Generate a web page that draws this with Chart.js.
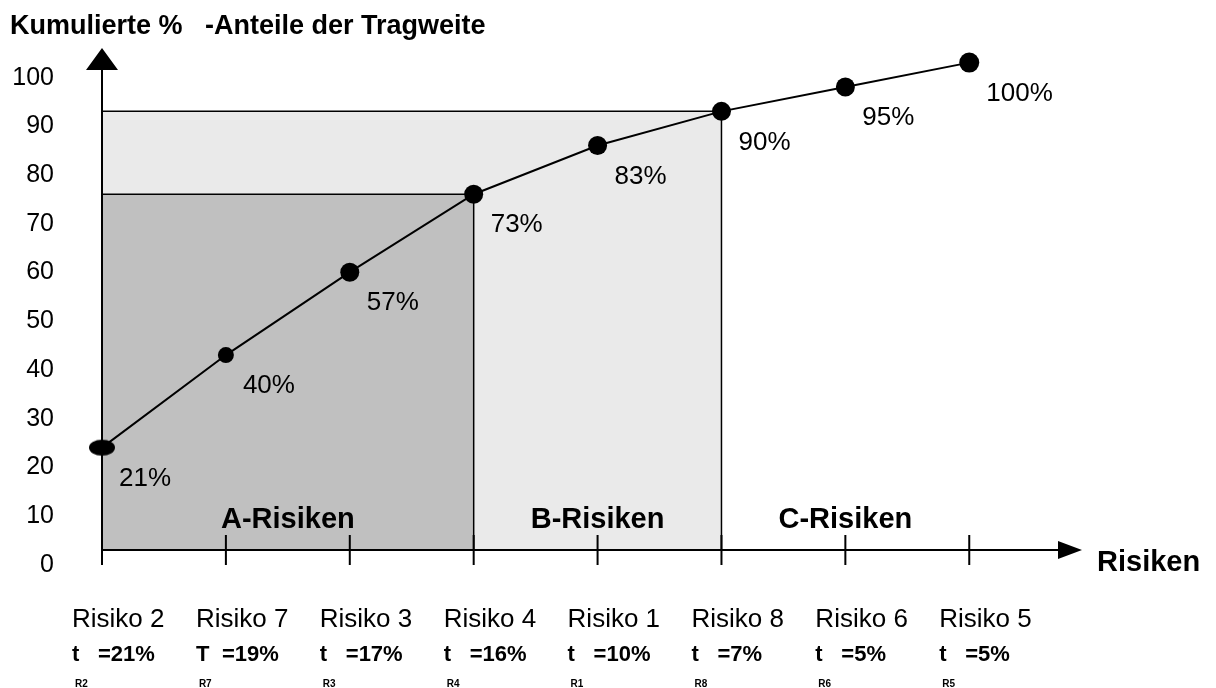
<!DOCTYPE html>
<html lang="de">
<head>
<meta charset="UTF-8">
<title>Kumulierte Tragweite der Risiken</title>
<script src="https://cdn.jsdelivr.net/npm/chart.js@4/dist/chart.umd.min.js"></script>
<style>
  html, body { margin:0; padding:0; background:#fff; }
  #wrap { width:1216px; height:688px; }
</style>
</head>
<body>
<div id="wrap"><canvas id="chart" width="1216" height="688"></canvas></div>

<script>
// ── Daten ────────────────────────────────────────────────────────────
const risks      = ['Risiko 2','Risiko 7','Risiko 3','Risiko 4','Risiko 1','Risiko 8','Risiko 6','Risiko 5'];
const riskIds    = ['R2','R7','R3','R4','R1','R8','R6','R5'];
const shareSyms  = ['t','T','t','t','t','t','t','t'];
const shares     = [21,19,17,16,10,7,5,5];
const cumulative = [21,40,57,73,83,90,95,100];
const yTicks     = [0,10,20,30,40,50,60,70,80,90,100];
const classNames = ['A-Risiken','B-Risiken','C-Risiken'];
const classEdges = [0,3,5,7];   // Index-Grenzen der Klassen A / B / C

const FONT = '"Liberation Sans", Arial, Helvetica, sans-serif';
const xMax = 7.91;               // etwas Platz rechts für den Achsenpfeil

// Erster Punkt ist als Ellipse gezeichnet
function ellipseMarker(rx, ry) {
  const c = document.createElement('canvas');
  c.width = rx * 2 + 2;
  c.height = ry * 2 + 2;
  const g = c.getContext('2d');
  g.fillStyle = '#000';
  g.beginPath();
  g.ellipse(rx + 1, ry + 1, rx, ry, 0, 0, Math.PI * 2);
  g.fill();
  return c;
}

// Flächen, Achsen, Pfeile und Beschriftungen
const paretoDecor = {
  id: 'paretoDecor',
  beforeDatasetsDraw(chart) {
    const { ctx, chartArea, scales: { x, y } } = chart;
    const x0 = x.getPixelForValue(0);
    const y0 = y.getPixelForValue(0);
    ctx.save();

    // B-Fläche (hell) zuerst, A-Fläche (dunkel) darüber
    const fills = ['#c0c0c0', '#eaeaea'];
    for (let k = 1; k >= 0; k--) {
      const edge  = classEdges[k + 1];
      const right = x.getPixelForValue(edge);
      const top   = y.getPixelForValue(cumulative[edge]);
      ctx.fillStyle = fills[k];
      ctx.fillRect(x0, top, right - x0, y0 - top);
      ctx.strokeStyle = '#000';
      ctx.lineWidth = 1.5;
      ctx.beginPath();
      ctx.moveTo(x0, top);
      ctx.lineTo(right, top);
      ctx.lineTo(right, y0);
      ctx.stroke();
    }

    ctx.fillStyle = '#000';
    ctx.font = 'bold 29px ' + FONT;
    ctx.textAlign = 'center';
    ctx.textBaseline = 'middle';
    classNames.forEach((name, k) => {
      const cx = x.getPixelForValue((classEdges[k] + classEdges[k + 1]) / 2);
      ctx.fillText(name, cx, y0 - 30);
    });

    // Achsen
    ctx.strokeStyle = '#000';
    ctx.lineWidth = 2;
    ctx.beginPath();
    ctx.moveTo(x0, y0 + 15);
    ctx.lineTo(x0, chartArea.top + 20);
    ctx.moveTo(x0, y0);
    ctx.lineTo(chartArea.right - 22, y0);
    for (let i = 1; i < risks.length; i++) {
      const px = x.getPixelForValue(i);
      ctx.moveTo(px, y0 - 15);
      ctx.lineTo(px, y0 + 15);
    }
    ctx.stroke();

    ctx.beginPath();
    ctx.moveTo(x0, chartArea.top);
    ctx.lineTo(x0 + 16, chartArea.top + 22);
    ctx.lineTo(x0 - 16, chartArea.top + 22);
    ctx.closePath();
    ctx.moveTo(chartArea.right, y0);
    ctx.lineTo(chartArea.right - 24, y0 - 9);
    ctx.lineTo(chartArea.right - 24, y0 + 9);
    ctx.closePath();
    ctx.fill();
    ctx.restore();
  },
  afterDatasetsDraw(chart) {
    const { ctx, chartArea, scales: { x, y } } = chart;
    const y0 = y.getPixelForValue(0);
    const meta = chart.getDatasetMeta(0);
    ctx.save();
    ctx.fillStyle = '#000';
    ctx.textBaseline = 'middle';
    ctx.textAlign = 'left';

    // kumulierte Werte neben den Punkten
    ctx.font = '26px ' + FONT;
    meta.data.forEach((pt, i) => {
      ctx.fillText(cumulative[i] + '%', pt.x + 17, pt.y + 31);
    });

    // Risiken und Einzelanteile unter der x-Achse
    risks.forEach((name, i) => {
      const left = x.getPixelForValue(i) - 30;
      ctx.font = '26px ' + FONT;
      ctx.textBaseline = 'alphabetic';
      ctx.fillText(name, left, y0 + 77);
      ctx.font = 'bold 22px ' + FONT;
      ctx.fillText(shareSyms[i], left, y0 + 111);
      ctx.fillText('=' + shares[i] + '%', left + 26, y0 + 111);
      ctx.font = 'bold 10px ' + FONT;
      ctx.fillText(riskIds[i], left + 3, y0 + 137);
    });

    // Titel und Achsenbezeichnung
    ctx.textBaseline = 'middle';
    ctx.font = 'bold 27px ' + FONT;
    ctx.fillText('Kumulierte %   -Anteile der Tragweite', 10, 27);
    ctx.font = 'bold 29px ' + FONT;
    ctx.fillText('Risiken', chartArea.right + 15, y0 + 13);
    ctx.restore();
  }
};

new Chart(document.getElementById('chart'), {
  type: 'line',
  data: {
    datasets: [{
      data: cumulative.map((v, i) => ({ x: i, y: v })),
      borderColor: '#000',
      borderWidth: 2,
      tension: 0,
      clip: false,
      pointBackgroundColor: '#000',
      pointBorderWidth: 0,
      pointRadius: [13, 8, 9.5, 9.5, 9.5, 9.5, 9.5, 10],
      pointStyle: [ellipseMarker(13, 8), 'circle', 'circle', 'circle', 'circle', 'circle', 'circle', 'circle']
    }]
  },
  options: {
    responsive: false,
    animation: false,
    layout: { padding: { left: 0, top: 48, right: 134, bottom: 138 }, autoPadding: false },
    plugins: { legend: { display: false }, tooltip: { enabled: false } },
    scales: {
      x: { type: 'linear', min: 0, max: xMax, display: false },
      y: {
        type: 'linear', min: 0, max: 103,
        grid: { display: false, drawTicks: false },
        border: { display: false },
        afterBuildTicks: s => { s.ticks = yTicks.map(v => ({ value: v })); },
        // feste Achsenbreite, keine zusätzliche Polsterung oben/unten
        afterFit: s => { s.width = 102; s.paddingTop = 0; s.paddingBottom = 0; },
        ticks: { padding: 48, labelOffset: 15, color: '#000', font: { family: FONT, size: 25 } }
      }
    }
  },
  plugins: [paretoDecor]
});
</script>
</body>
</html>
